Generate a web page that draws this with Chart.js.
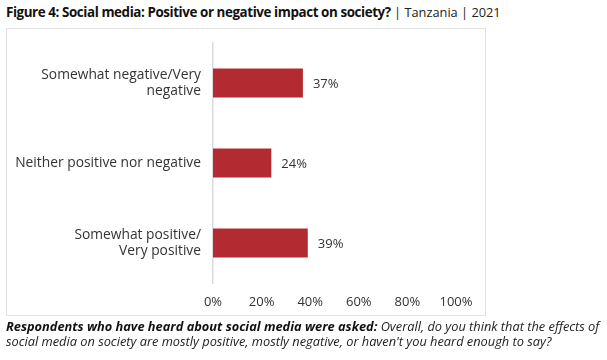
<!DOCTYPE html>
<html>
<head>
<meta charset="utf-8">
<script src="https://cdn.jsdelivr.net/npm/chart.js@4"></script>
<style>
  html, body { margin: 0; padding: 0; background: #fff; }
  body { width: 607px; height: 360px; position: relative; overflow: hidden; font-family: "Open Sans", sans-serif; }
  #title { position: absolute; left: 6px; top: 3px; font-size: 13px; color: #111; white-space: nowrap; }
  #title b { font-weight: 700; font-size: 13.4px; letter-spacing: -0.42px; }
  #title span { font-weight: 400; color: #222; font-size: 12.8px; }
  #box { position: absolute; left: 6px; top: 28px; width: 478px; height: 286px; border: 1.5px solid #e3e3e3; }
  #wrap { position: absolute; left: 0; top: 0; width: 607px; height: 360px; }
  #note { position: absolute; left: 6px; top: 319px; width: 604px; font-size: 12.8px; line-height: 15px; font-style: italic; color: #222; white-space: nowrap; }
  #note b { font-weight: 700; color: #111; }
</style>
</head>
<body>
<div id="title"><b>Figure 4: Social media: Positive or negative impact on society?</b><span> | Tanzania | 2021</span></div>
<div id="box"></div>
<div id="wrap"><canvas id="c" width="607" height="360"></canvas></div>
<div id="note"><b>Respondents who have heard about social media were asked:</b> Overall, do you think that the effects of<br>social media on society are mostly positive, mostly negative, or haven't you heard enough to say?</div>
<script>
const categories = [["Somewhat negative/Very", "negative"], "Neither positive nor negative", ["Somewhat positive/", "Very positive"]];
const values = [37, 24, 39];
const tickValues = [0, 20, 40, 60, 80, 100];

const FONT = "'Open Sans', sans-serif";
const barColor = "#B32A30";
const textColor = "#333333";

const valueLabels = {
  id: "valueLabels",
  afterDatasetsDraw(chart) {
    const ctx = chart.ctx;
    const meta = chart.getDatasetMeta(0);
    ctx.save();
    ctx.font = "13px " + FONT;
    ctx.fillStyle = textColor;
    ctx.textAlign = "left";
    ctx.textBaseline = "middle";
    meta.data.forEach((bar, i) => {
      ctx.fillText(values[i] + "%", bar.x + 10, bar.y + 1);
    });
    ctx.restore();
  }
};

new Chart(document.getElementById("c"), {
  type: "bar",
  data: {
    labels: categories,
    datasets: [{
      data: values,
      backgroundColor: barColor,
      borderWidth: 0,
      categoryPercentage: 1,
      barPercentage: 0.36
    }]
  },
  options: {
    indexAxis: "y",
    responsive: false,
    animation: false,
    devicePixelRatio: 1,
    layout: { padding: { top: 43, right: 151, left: 0, bottom: 0 } },
    plugins: { legend: { display: false }, tooltip: { enabled: false }, title: { display: false } },
    scales: {
      x: {
        min: 0, max: 100,
        afterBuildTicks(scale) { scale.ticks = tickValues.map(v => ({ value: v })); },
        afterFit(scale) { scale.height = 77; },
        grid: { display: false, drawTicks: false },
        border: { display: false },
        ticks: { padding: 11, color: textColor, font: { family: FONT, size: 13 }, callback: v => v + "%" }
      },
      y: {
        afterFit(scale) { scale.width = 213; },
        grid: { display: false, drawTicks: false },
        border: { display: true, color: "#dcdcdc", width: 1.5 },
        ticks: { padding: 12, color: textColor, font: { family: FONT, size: 13.8, lineHeight: 1.22 } }
      }
    }
  },
  plugins: [valueLabels]
});
</script>
</body>
</html>
